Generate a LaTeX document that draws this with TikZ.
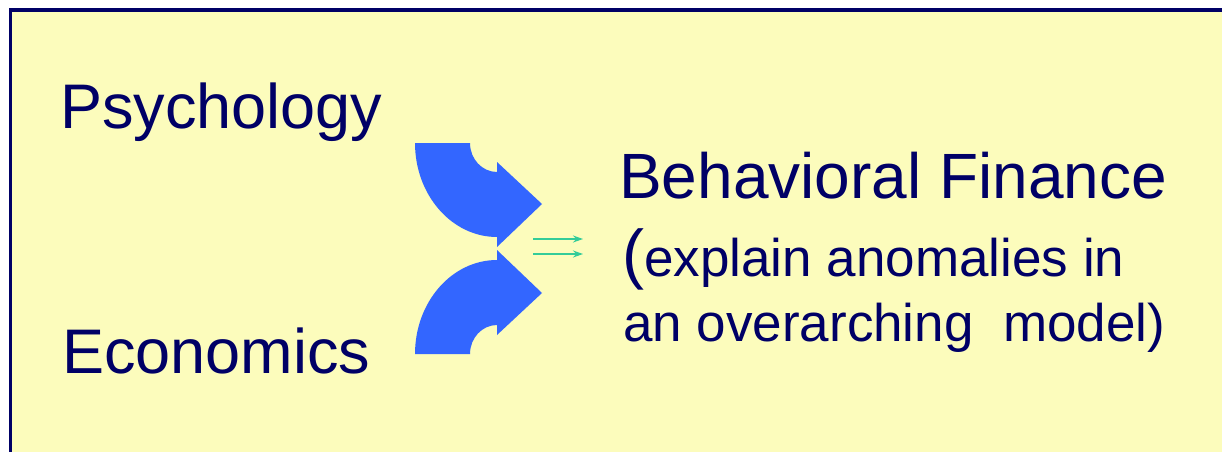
\documentclass[tikz,border=0pt]{standalone}
\usepackage{fontspec}
\setmainfont{Liberation Sans}
\usetikzlibrary{arrows.meta}
\definecolor{bgyellow}{RGB}{252,252,188}
\definecolor{navy}{RGB}{0,0,102}
\definecolor{arrowblue}{RGB}{51,102,255}
\definecolor{tealgreen}{RGB}{51,204,153}
\begin{document}
\begin{tikzpicture}[x=1pt,y=1pt,
  lbl/.style={anchor=base west, inner sep=0pt, text=navy},
  big/.style={font=\fontsize{63}{63}\selectfont},
  bigger/.style={font=\fontsize{64}{64}\selectfont},
  small/.style={font=\fontsize{53}{53}\selectfont},
  bentarrow/.style={fill=arrowblue, draw=none},
  thinarrow/.style={draw=tealgreen, line width=1.5pt, -{Stealth[length=10pt,width=7pt]}}]
\useasboundingbox (0,0) rectangle (1222,451);
\begin{scope}
  \clip (0,0) rectangle (1222,451);
  \fill[white] (0,0) rectangle (1222,451);
  \fill[bgyellow] (10.8,-20) rectangle (1250,441);
  \draw[navy, line width=3.3pt] (10.8,-20) -- (10.8,441) -- (1250,441);
\end{scope}
% bent arrows
\fill[bentarrow] (415,308) -- (470,308)
  arc[start angle=180, end angle=270, x radius=27, y radius=29]
  -- (497,289) -- (542,247) -- (497,204) -- (497,214)
  arc[start angle=270, end angle=180, x radius=82, y radius=94] -- cycle;
\fill[bentarrow] (415,97) -- (470,97)
  arc[start angle=180, end angle=90, x radius=27, y radius=29]
  -- (497,116) -- (542,158) -- (497,201) -- (497,191)
  arc[start angle=90, end angle=180, x radius=82, y radius=94] -- cycle;
% green arrows
\coordinate (g1s) at (533,212);
\coordinate (g1e) at (583,212);
\coordinate (g2s) at (533,197);
\coordinate (g2e) at (583,197);
\draw[thinarrow] (g1s) -- (g1e);
\draw[thinarrow] (g2s) -- (g2e);
% texts
\node[lbl, big] (psy) at (60,323) {Psychology};
\node[lbl, big] (eco) at (62,78) {Economics};
\node[lbl, bigger] (bf) at (619,253) {Behavioral Finance};
\node[lbl, small] (l2) at (622,175) {{\fontsize{66}{66}\selectfont(}explain anomalies in};
\node[lbl, small] (l3) at (623,110) {an overarching\ \ model)};
\end{tikzpicture}
\end{document}
